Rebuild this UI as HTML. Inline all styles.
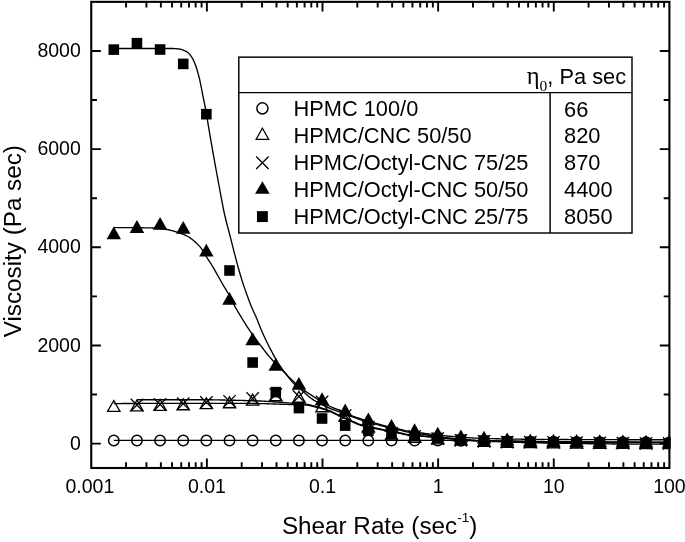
<!DOCTYPE html>
<html lang="en"><head><meta charset="utf-8"><title>Viscosity vs Shear Rate</title>
<style>html,body{margin:0;padding:0;background:#fff;}body{width:685px;height:542px;overflow:hidden;}svg{display:block;}text{font-family:"Liberation Sans",sans-serif;fill:#000;}.tk{font-size:19.5px;}.ax{font-size:24.25px;}.lg{font-size:21.8px;}.sym{font-family:"Liberation Serif","DejaVu Serif",serif;}</style></head><body>
<svg width="685" height="542" viewBox="0 0 685 542">
<rect x="0" y="0" width="685" height="542" fill="#fff"/>
<defs><clipPath id="cp"><rect x="91.25" y="1.85" width="579.15" height="466.15"/></clipPath></defs>
<g clip-path="url(#cp)">
<g fill="none" stroke="#000" stroke-width="1.35" stroke-linejoin="round">
<path d="M113.80,440.40 L115.19,440.40 L116.58,440.40 L117.97,440.40 L119.35,440.40 L120.74,440.40 L122.13,440.40 L123.52,440.40 L124.91,440.40 L126.30,440.40 L127.68,440.40 L129.07,440.40 L130.46,440.40 L131.85,440.40 L133.24,440.40 L134.63,440.40 L136.01,440.40 L137.40,440.40 L138.79,440.40 L140.18,440.40 L141.57,440.40 L142.96,440.40 L144.34,440.40 L145.73,440.40 L147.12,440.40 L148.51,440.40 L149.90,440.40 L151.29,440.40 L152.68,440.40 L154.06,440.40 L155.45,440.40 L156.84,440.40 L158.23,440.40 L159.62,440.40 L161.01,440.40 L162.39,440.40 L163.78,440.40 L165.17,440.40 L166.56,440.40 L167.95,440.40 L169.34,440.40 L170.72,440.40 L172.11,440.40 L173.50,440.40 L174.89,440.40 L176.28,440.40 L177.67,440.40 L179.05,440.40 L180.44,440.40 L181.83,440.40 L183.22,440.40 L184.61,440.40 L186.00,440.40 L187.39,440.40 L188.77,440.40 L190.16,440.40 L191.55,440.40 L192.94,440.40 L194.33,440.40 L195.72,440.40 L197.10,440.40 L198.49,440.40 L199.88,440.40 L201.27,440.40 L202.66,440.40 L204.05,440.40 L205.43,440.40 L206.82,440.40 L208.21,440.40 L209.60,440.40 L210.99,440.40 L212.38,440.40 L213.76,440.40 L215.15,440.40 L216.54,440.40 L217.93,440.40 L219.32,440.40 L220.71,440.40 L222.10,440.40 L223.48,440.40 L224.87,440.40 L226.26,440.40 L227.65,440.40 L229.04,440.40 L230.43,440.40 L231.81,440.40 L233.20,440.40 L234.59,440.40 L235.98,440.40 L237.37,440.40 L238.76,440.40 L240.14,440.40 L241.53,440.40 L242.92,440.40 L244.31,440.40 L245.70,440.40 L247.09,440.40 L248.47,440.40 L249.86,440.40 L251.25,440.40 L252.64,440.40 L254.03,440.40 L255.42,440.40 L256.81,440.40 L258.19,440.40 L259.58,440.40 L260.97,440.40 L262.36,440.40 L263.75,440.40 L265.14,440.40 L266.52,440.40 L267.91,440.40 L269.30,440.40 L270.69,440.40 L272.08,440.40 L273.47,440.40 L274.85,440.40 L276.24,440.40 L277.63,440.40 L279.02,440.40 L280.41,440.40 L281.80,440.40 L283.18,440.40 L284.57,440.40 L285.96,440.40 L287.35,440.40 L288.74,440.40 L290.13,440.40 L291.52,440.40 L292.90,440.40 L294.29,440.40 L295.68,440.40 L297.07,440.40 L298.46,440.40 L299.85,440.40 L301.23,440.40 L302.62,440.40 L304.01,440.40 L305.40,440.40 L306.79,440.40 L308.18,440.40 L309.56,440.40 L310.95,440.40 L312.34,440.40 L313.73,440.40 L315.12,440.40 L316.51,440.40 L317.89,440.40 L319.28,440.40 L320.67,440.40 L322.06,440.40 L323.45,440.40 L324.84,440.40 L326.23,440.40 L327.61,440.40 L329.00,440.40 L330.39,440.40 L331.78,440.40 L333.17,440.40 L334.56,440.40 L335.94,440.40 L337.33,440.40 L338.72,440.40 L340.11,440.40 L341.50,440.40 L342.89,440.40 L344.27,440.40 L345.66,440.40 L347.05,440.40 L348.44,440.40 L349.83,440.40 L351.22,440.40 L352.60,440.40 L353.99,440.40 L355.38,440.40 L356.77,440.40 L358.16,440.40 L359.55,440.40 L360.94,440.40 L362.32,440.40 L363.71,440.40 L365.10,440.40 L366.49,440.40 L367.88,440.40 L369.27,440.40 L370.65,440.40 L372.04,440.40 L373.43,440.40 L374.82,440.40 L376.21,440.40 L377.60,440.40 L378.98,440.40 L380.37,440.40 L381.76,440.40 L383.15,440.40 L384.54,440.40 L385.93,440.40 L387.31,440.40 L388.70,440.40 L390.09,440.40 L391.48,440.40 L392.87,440.40 L394.26,440.40 L395.65,440.40 L397.03,440.40 L398.42,440.40 L399.81,440.40 L401.20,440.40 L402.59,440.40 L403.98,440.40 L405.36,440.40 L406.75,440.40 L408.14,440.40 L409.53,440.40 L410.92,440.40 L412.31,440.40 L413.69,440.40 L415.08,440.40 L416.47,440.40 L417.86,440.40 L419.25,440.40 L420.64,440.40 L422.02,440.40 L423.41,440.40 L424.80,440.40 L426.19,440.40 L427.58,440.40 L428.97,440.40 L430.36,440.40 L431.74,440.40 L433.13,440.40 L434.52,440.40 L435.91,440.40 L437.30,440.40 L438.69,440.40 L440.07,440.40 L441.46,440.40 L442.85,440.40 L444.24,440.41 L445.63,440.41 L447.02,440.42 L448.40,440.42 L449.79,440.43 L451.18,440.44 L452.57,440.45 L453.96,440.46 L455.35,440.48 L456.73,440.49 L458.12,440.50 L459.51,440.52 L460.90,440.53 L462.29,440.55 L463.68,440.56 L465.07,440.58 L466.45,440.59 L467.84,440.61 L469.23,440.63 L470.62,440.64 L472.01,440.66 L473.40,440.68 L474.78,440.69 L476.17,440.71 L477.56,440.73 L478.95,440.74 L480.34,440.76 L481.73,440.78 L483.11,440.79 L484.50,440.81 L485.89,440.82 L487.28,440.84 L488.67,440.85 L490.06,440.87 L491.44,440.88 L492.83,440.90 L494.22,440.92 L495.61,440.93 L497.00,440.95 L498.39,440.97 L499.78,440.99 L501.16,441.01 L502.55,441.03 L503.94,441.04 L505.33,441.06 L506.72,441.08 L508.11,441.10 L509.49,441.12 L510.88,441.14 L512.27,441.16 L513.66,441.18 L515.05,441.19 L516.44,441.21 L517.82,441.23 L519.21,441.25 L520.60,441.27 L521.99,441.29 L523.38,441.31 L524.77,441.32 L526.15,441.34 L527.54,441.36 L528.93,441.38 L530.32,441.39 L531.71,441.41 L533.10,441.43 L534.49,441.44 L535.87,441.46 L537.26,441.47 L538.65,441.49 L540.04,441.50 L541.43,441.51 L542.82,441.53 L544.20,441.54 L545.59,441.56 L546.98,441.57 L548.37,441.58 L549.76,441.60 L551.15,441.61 L552.53,441.62 L553.92,441.64 L555.31,441.65 L556.70,441.66 L558.09,441.68 L559.48,441.69 L560.86,441.70 L562.25,441.71 L563.64,441.73 L565.03,441.74 L566.42,441.75 L567.81,441.76 L569.20,441.78 L570.58,441.79 L571.97,441.80 L573.36,441.81 L574.75,441.82 L576.14,441.83 L577.53,441.84 L578.91,441.86 L580.30,441.87 L581.69,441.88 L583.08,441.89 L584.47,441.90 L585.86,441.91 L587.24,441.92 L588.63,441.93 L590.02,441.94 L591.41,441.95 L592.80,441.96 L594.19,441.96 L595.57,441.97 L596.96,441.98 L598.35,441.99 L599.74,442.00 L601.13,442.01 L602.52,442.01 L603.91,442.02 L605.29,442.03 L606.68,442.04 L608.07,442.05 L609.46,442.05 L610.85,442.06 L612.24,442.07 L613.62,442.08 L615.01,442.08 L616.40,442.09 L617.79,442.10 L619.18,442.11 L620.57,442.11 L621.95,442.12 L623.34,442.13 L624.73,442.13 L626.12,442.14 L627.51,442.15 L628.90,442.15 L630.28,442.16 L631.67,442.17 L633.06,442.17 L634.45,442.18 L635.84,442.19 L637.23,442.19 L638.62,442.20 L640.00,442.20 L641.39,442.21 L642.78,442.22 L644.17,442.22 L645.56,442.23 L646.95,442.23 L648.33,442.24 L649.72,442.24 L651.11,442.25 L652.50,442.25 L653.89,442.26 L655.28,442.26 L656.66,442.27 L658.05,442.27 L659.44,442.27 L660.83,442.28 L662.22,442.28 L663.61,442.29 L664.99,442.29 L666.38,442.29 L667.77,442.30 L669.16,442.30"/>
<path d="M113.80,403.60 L115.19,403.59 L116.58,403.58 L117.97,403.57 L119.35,403.56 L120.74,403.55 L122.13,403.54 L123.52,403.52 L124.91,403.51 L126.30,403.50 L127.68,403.49 L129.07,403.48 L130.46,403.47 L131.85,403.46 L133.24,403.45 L134.63,403.44 L136.01,403.43 L137.40,403.42 L138.79,403.41 L140.18,403.41 L141.57,403.40 L142.96,403.39 L144.34,403.38 L145.73,403.37 L147.12,403.37 L148.51,403.36 L149.90,403.35 L151.29,403.35 L152.68,403.34 L154.06,403.33 L155.45,403.33 L156.84,403.32 L158.23,403.32 L159.62,403.31 L161.01,403.31 L162.39,403.31 L163.78,403.31 L165.17,403.30 L166.56,403.30 L167.95,403.30 L169.34,403.30 L170.72,403.30 L172.11,403.30 L173.50,403.30 L174.89,403.30 L176.28,403.30 L177.67,403.30 L179.05,403.30 L180.44,403.30 L181.83,403.30 L183.22,403.30 L184.61,403.30 L186.00,403.30 L187.39,403.30 L188.77,403.30 L190.16,403.30 L191.55,403.30 L192.94,403.30 L194.33,403.30 L195.72,403.30 L197.10,403.30 L198.49,403.30 L199.88,403.30 L201.27,403.30 L202.66,403.30 L204.05,403.30 L205.43,403.30 L206.82,403.30 L208.21,403.30 L209.60,403.30 L210.99,403.30 L212.38,403.30 L213.76,403.30 L215.15,403.30 L216.54,403.30 L217.93,403.30 L219.32,403.30 L220.71,403.30 L222.10,403.30 L223.48,403.30 L224.87,403.30 L226.26,403.30 L227.65,403.30 L229.04,403.30 L230.43,403.30 L231.81,403.30 L233.20,403.30 L234.59,403.30 L235.98,403.30 L237.37,403.30 L238.76,403.30 L240.14,403.31 L241.53,403.32 L242.92,403.33 L244.31,403.34 L245.70,403.35 L247.09,403.37 L248.47,403.39 L249.86,403.40 L251.25,403.42 L252.64,403.44 L254.03,403.46 L255.42,403.49 L256.81,403.51 L258.19,403.53 L259.58,403.56 L260.97,403.58 L262.36,403.61 L263.75,403.64 L265.14,403.67 L266.52,403.71 L267.91,403.76 L269.30,403.80 L270.69,403.85 L272.08,403.91 L273.47,403.96 L274.85,404.01 L276.24,404.07 L277.63,404.12 L279.02,404.17 L280.41,404.21 L281.80,404.26 L283.18,404.31 L284.57,404.36 L285.96,404.41 L287.35,404.45 L288.74,404.50 L290.13,404.54 L291.52,404.59 L292.90,404.62 L294.29,404.66 L295.68,404.68 L297.07,404.71 L298.46,404.73 L299.85,404.76 L301.23,404.80 L302.62,404.84 L304.01,404.89 L305.40,404.98 L306.79,405.13 L308.18,405.35 L309.56,405.60 L310.95,405.90 L312.34,406.22 L313.73,406.55 L315.12,406.89 L316.51,407.23 L317.89,407.57 L319.28,407.95 L320.67,408.35 L322.06,408.78 L323.45,409.23 L324.84,409.70 L326.23,410.19 L327.61,410.70 L329.00,411.22 L330.39,411.75 L331.78,412.34 L333.17,412.97 L334.56,413.64 L335.94,414.33 L337.33,415.02 L338.72,415.70 L340.11,416.35 L341.50,416.99 L342.89,417.63 L344.27,418.27 L345.66,418.91 L347.05,419.54 L348.44,420.17 L349.83,420.78 L351.22,421.37 L352.60,421.96 L353.99,422.56 L355.38,423.16 L356.77,423.76 L358.16,424.33 L359.55,424.86 L360.94,425.35 L362.32,425.78 L363.71,426.16 L365.10,426.50 L366.49,426.82 L367.88,427.12 L369.27,427.40 L370.65,427.68 L372.04,427.95 L373.43,428.23 L374.82,428.50 L376.21,428.77 L377.60,429.03 L378.98,429.30 L380.37,429.58 L381.76,429.89 L383.15,430.21 L384.54,430.53 L385.93,430.83 L387.31,431.10 L388.70,431.35 L390.09,431.60 L391.48,431.83 L392.87,432.07 L394.26,432.31 L395.65,432.55 L397.03,432.80 L398.42,433.06 L399.81,433.36 L401.20,433.68 L402.59,434.01 L403.98,434.33 L405.36,434.64 L406.75,434.91 L408.14,435.13 L409.53,435.29 L410.92,435.43 L412.31,435.56 L413.69,435.67 L415.08,435.77 L416.47,435.86 L417.86,435.96 L419.25,436.06 L420.64,436.17 L422.02,436.29 L423.41,436.41 L424.80,436.53 L426.19,436.66 L427.58,436.78 L428.97,436.91 L430.36,437.04 L431.74,437.17 L433.13,437.29 L434.52,437.42 L435.91,437.55 L437.30,437.68 L438.69,437.81 L440.07,437.94 L441.46,438.08 L442.85,438.21 L444.24,438.34 L445.63,438.47 L447.02,438.60 L448.40,438.73 L449.79,438.85 L451.18,438.97 L452.57,439.09 L453.96,439.20 L455.35,439.31 L456.73,439.41 L458.12,439.53 L459.51,439.64 L460.90,439.75 L462.29,439.85 L463.68,439.96 L465.07,440.07 L466.45,440.17 L467.84,440.26 L469.23,440.36 L470.62,440.45 L472.01,440.53 L473.40,440.60 L474.78,440.67 L476.17,440.73 L477.56,440.79 L478.95,440.83 L480.34,440.87 L481.73,440.92 L483.11,440.96 L484.50,441.00 L485.89,441.04 L487.28,441.08 L488.67,441.12 L490.06,441.16 L491.44,441.19 L492.83,441.23 L494.22,441.26 L495.61,441.30 L497.00,441.33 L498.39,441.36 L499.78,441.39 L501.16,441.42 L502.55,441.45 L503.94,441.48 L505.33,441.51 L506.72,441.54 L508.11,441.56 L509.49,441.59 L510.88,441.61 L512.27,441.64 L513.66,441.66 L515.05,441.68 L516.44,441.71 L517.82,441.73 L519.21,441.75 L520.60,441.77 L521.99,441.79 L523.38,441.81 L524.77,441.83 L526.15,441.84 L527.54,441.86 L528.93,441.88 L530.32,441.90 L531.71,441.91 L533.10,441.93 L534.49,441.94 L535.87,441.96 L537.26,441.97 L538.65,441.99 L540.04,442.00 L541.43,442.01 L542.82,442.03 L544.20,442.04 L545.59,442.05 L546.98,442.07 L548.37,442.08 L549.76,442.09 L551.15,442.10 L552.53,442.11 L553.92,442.13 L555.31,442.14 L556.70,442.15 L558.09,442.16 L559.48,442.17 L560.86,442.18 L562.25,442.19 L563.64,442.20 L565.03,442.21 L566.42,442.22 L567.81,442.23 L569.20,442.24 L570.58,442.25 L571.97,442.26 L573.36,442.27 L574.75,442.28 L576.14,442.29 L577.53,442.30 L578.91,442.31 L580.30,442.32 L581.69,442.33 L583.08,442.34 L584.47,442.34 L585.86,442.35 L587.24,442.36 L588.63,442.37 L590.02,442.38 L591.41,442.38 L592.80,442.39 L594.19,442.40 L595.57,442.40 L596.96,442.41 L598.35,442.42 L599.74,442.42 L601.13,442.43 L602.52,442.44 L603.91,442.44 L605.29,442.45 L606.68,442.45 L608.07,442.46 L609.46,442.46 L610.85,442.47 L612.24,442.47 L613.62,442.48 L615.01,442.48 L616.40,442.49 L617.79,442.49 L619.18,442.50 L620.57,442.50 L621.95,442.51 L623.34,442.51 L624.73,442.51 L626.12,442.52 L627.51,442.52 L628.90,442.53 L630.28,442.53 L631.67,442.53 L633.06,442.54 L634.45,442.54 L635.84,442.54 L637.23,442.55 L638.62,442.55 L640.00,442.55 L641.39,442.56 L642.78,442.56 L644.17,442.56 L645.56,442.57 L646.95,442.57 L648.33,442.57 L649.72,442.58 L651.11,442.58 L652.50,442.58 L653.89,442.58 L655.28,442.59 L656.66,442.59 L658.05,442.59 L659.44,442.59 L660.83,442.59 L662.22,442.59 L663.61,442.60 L664.99,442.60 L666.38,442.60 L667.77,442.60 L669.16,442.60"/>
<path d="M136.94,399.70 L138.27,399.70 L139.60,399.70 L140.93,399.70 L142.26,399.70 L143.59,399.70 L144.92,399.70 L146.25,399.70 L147.58,399.70 L148.91,399.70 L150.25,399.70 L151.58,399.70 L152.91,399.70 L154.24,399.70 L155.57,399.70 L156.90,399.70 L158.23,399.70 L159.56,399.70 L160.89,399.70 L162.22,399.70 L163.55,399.70 L164.88,399.70 L166.21,399.70 L167.54,399.70 L168.87,399.70 L170.20,399.70 L171.53,399.70 L172.86,399.70 L174.20,399.70 L175.53,399.70 L176.86,399.70 L178.19,399.70 L179.52,399.70 L180.85,399.70 L182.18,399.70 L183.51,399.70 L184.84,399.70 L186.17,399.70 L187.50,399.70 L188.83,399.70 L190.16,399.70 L191.49,399.70 L192.82,399.70 L194.15,399.70 L195.48,399.70 L196.81,399.70 L198.15,399.70 L199.48,399.70 L200.81,399.70 L202.14,399.70 L203.47,399.71 L204.80,399.72 L206.13,399.73 L207.46,399.74 L208.79,399.75 L210.12,399.77 L211.45,399.79 L212.78,399.81 L214.11,399.83 L215.44,399.85 L216.77,399.88 L218.10,399.90 L219.43,399.93 L220.76,399.96 L222.10,399.99 L223.43,400.01 L224.76,400.04 L226.09,400.07 L227.42,400.10 L228.75,400.14 L230.08,400.17 L231.41,400.20 L232.74,400.23 L234.07,400.26 L235.40,400.29 L236.73,400.32 L238.06,400.35 L239.39,400.38 L240.72,400.41 L242.05,400.44 L243.38,400.48 L244.71,400.51 L246.05,400.55 L247.38,400.58 L248.71,400.62 L250.04,400.66 L251.37,400.70 L252.70,400.75 L254.03,400.79 L255.36,400.84 L256.69,400.89 L258.02,400.94 L259.35,400.99 L260.68,401.04 L262.01,401.10 L263.34,401.16 L264.67,401.23 L266.00,401.31 L267.33,401.39 L268.66,401.48 L270.00,401.57 L271.33,401.66 L272.66,401.76 L273.99,401.86 L275.32,401.96 L276.65,402.06 L277.98,402.15 L279.31,402.25 L280.64,402.35 L281.97,402.44 L283.30,402.54 L284.63,402.65 L285.96,402.75 L287.29,402.85 L288.62,402.95 L289.95,403.05 L291.28,403.15 L292.61,403.24 L293.94,403.32 L295.28,403.40 L296.61,403.47 L297.94,403.55 L299.27,403.62 L300.60,403.71 L301.93,403.80 L303.26,403.91 L304.59,404.04 L305.92,404.21 L307.25,404.42 L308.58,404.66 L309.91,404.93 L311.24,405.23 L312.57,405.54 L313.90,405.87 L315.23,406.21 L316.56,406.54 L317.89,406.89 L319.23,407.27 L320.56,407.66 L321.89,408.08 L323.22,408.52 L324.55,408.97 L325.88,409.45 L327.21,409.93 L328.54,410.43 L329.87,410.95 L331.20,411.49 L332.53,412.08 L333.86,412.71 L335.19,413.36 L336.52,414.02 L337.85,414.68 L339.18,415.32 L340.51,415.94 L341.84,416.55 L343.18,417.17 L344.51,417.78 L345.84,418.39 L347.17,419.00 L348.50,419.59 L349.83,420.18 L351.16,420.75 L352.49,421.31 L353.82,421.89 L355.15,422.46 L356.48,423.03 L357.81,423.59 L359.14,424.11 L360.47,424.59 L361.80,425.02 L363.13,425.40 L364.46,425.75 L365.79,426.06 L367.13,426.36 L368.46,426.64 L369.79,426.91 L371.12,427.17 L372.45,427.43 L373.78,427.69 L375.11,427.96 L376.44,428.21 L377.77,428.46 L379.10,428.72 L380.43,428.99 L381.76,429.29 L383.09,429.60 L384.42,429.91 L385.75,430.19 L387.08,430.45 L388.41,430.70 L389.74,430.94 L391.08,431.17 L392.41,431.39 L393.74,431.62 L395.07,431.85 L396.40,432.08 L397.73,432.33 L399.06,432.59 L400.39,432.88 L401.72,433.19 L403.05,433.50 L404.38,433.80 L405.71,434.08 L407.04,434.34 L408.37,434.55 L409.70,434.73 L411.03,434.88 L412.36,435.03 L413.69,435.16 L415.02,435.28 L416.36,435.39 L417.69,435.51 L419.02,435.62 L420.35,435.74 L421.68,435.86 L423.01,435.99 L424.34,436.11 L425.67,436.23 L427.00,436.35 L428.33,436.47 L429.66,436.58 L430.99,436.70 L432.32,436.82 L433.65,436.94 L434.98,437.06 L436.31,437.19 L437.64,437.31 L438.97,437.44 L440.31,437.56 L441.64,437.69 L442.97,437.82 L444.30,437.95 L445.63,438.07 L446.96,438.20 L448.29,438.32 L449.62,438.44 L450.95,438.55 L452.28,438.66 L453.61,438.77 L454.94,438.87 L456.27,438.98 L457.60,439.08 L458.93,439.19 L460.26,439.30 L461.59,439.40 L462.92,439.50 L464.26,439.61 L465.59,439.70 L466.92,439.80 L468.25,439.89 L469.58,439.98 L470.91,440.06 L472.24,440.14 L473.57,440.21 L474.90,440.28 L476.23,440.33 L477.56,440.39 L478.89,440.43 L480.22,440.47 L481.55,440.51 L482.88,440.55 L484.21,440.59 L485.54,440.63 L486.87,440.67 L488.21,440.70 L489.54,440.74 L490.87,440.77 L492.20,440.81 L493.53,440.84 L494.86,440.87 L496.19,440.90 L497.52,440.93 L498.85,440.96 L500.18,440.99 L501.51,441.02 L502.84,441.05 L504.17,441.08 L505.50,441.10 L506.83,441.13 L508.16,441.15 L509.49,441.18 L510.82,441.20 L512.16,441.22 L513.49,441.25 L514.82,441.27 L516.15,441.29 L517.48,441.31 L518.81,441.33 L520.14,441.35 L521.47,441.37 L522.80,441.39 L524.13,441.41 L525.46,441.42 L526.79,441.44 L528.12,441.46 L529.45,441.48 L530.78,441.49 L532.11,441.51 L533.44,441.53 L534.77,441.54 L536.11,441.56 L537.44,441.57 L538.77,441.59 L540.10,441.60 L541.43,441.62 L542.76,441.63 L544.09,441.64 L545.42,441.66 L546.75,441.67 L548.08,441.69 L549.41,441.70 L550.74,441.71 L552.07,441.72 L553.40,441.74 L554.73,441.75 L556.06,441.76 L557.39,441.77 L558.72,441.79 L560.05,441.80 L561.39,441.81 L562.72,441.82 L564.05,441.83 L565.38,441.84 L566.71,441.86 L568.04,441.87 L569.37,441.88 L570.70,441.89 L572.03,441.90 L573.36,441.91 L574.69,441.92 L576.02,441.93 L577.35,441.94 L578.68,441.95 L580.01,441.96 L581.34,441.97 L582.67,441.98 L584.00,441.99 L585.34,442.00 L586.67,442.01 L588.00,442.01 L589.33,442.02 L590.66,442.03 L591.99,442.04 L593.32,442.05 L594.65,442.06 L595.98,442.07 L597.31,442.07 L598.64,442.08 L599.97,442.09 L601.30,442.10 L602.63,442.11 L603.96,442.11 L605.29,442.12 L606.62,442.13 L607.95,442.14 L609.29,442.14 L610.62,442.15 L611.95,442.16 L613.28,442.16 L614.61,442.17 L615.94,442.18 L617.27,442.19 L618.60,442.19 L619.93,442.20 L621.26,442.21 L622.59,442.21 L623.92,442.22 L625.25,442.23 L626.58,442.23 L627.91,442.24 L629.24,442.25 L630.57,442.25 L631.90,442.26 L633.24,442.26 L634.57,442.27 L635.90,442.28 L637.23,442.28 L638.56,442.29 L639.89,442.29 L641.22,442.30 L642.55,442.31 L643.88,442.31 L645.21,442.32 L646.54,442.32 L647.87,442.33 L649.20,442.33 L650.53,442.34 L651.86,442.34 L653.19,442.35 L654.52,442.35 L655.85,442.36 L657.19,442.36 L658.52,442.37 L659.85,442.37 L661.18,442.38 L662.51,442.38 L663.84,442.38 L665.17,442.39 L666.50,442.39 L667.83,442.40 L669.16,442.40"/>
<path d="M113.80,227.60 L115.19,227.60 L116.58,227.60 L117.97,227.60 L119.35,227.61 L120.74,227.61 L122.13,227.62 L123.52,227.62 L124.91,227.63 L126.30,227.63 L127.68,227.64 L129.07,227.65 L130.46,227.66 L131.85,227.67 L133.24,227.68 L134.63,227.70 L136.01,227.71 L137.40,227.73 L138.79,227.74 L140.18,227.76 L141.57,227.77 L142.96,227.79 L144.34,227.81 L145.73,227.83 L147.12,227.85 L148.51,227.88 L149.90,227.90 L151.29,227.93 L152.68,227.99 L154.06,228.07 L155.45,228.16 L156.84,228.28 L158.23,228.41 L159.62,228.56 L161.01,228.72 L162.39,228.89 L163.78,229.08 L165.17,229.27 L166.56,229.47 L167.95,229.69 L169.34,229.98 L170.72,230.32 L172.11,230.70 L173.50,231.10 L174.89,231.52 L176.28,231.95 L177.67,232.38 L179.05,232.83 L180.44,233.31 L181.83,233.81 L183.22,234.36 L184.61,234.94 L186.00,235.56 L187.39,236.24 L188.77,237.01 L190.16,237.92 L191.55,238.93 L192.94,240.02 L194.33,241.16 L195.72,242.37 L197.10,243.68 L198.49,245.11 L199.88,246.67 L201.27,248.45 L202.66,250.55 L204.05,252.85 L205.43,255.21 L206.82,257.48 L208.21,259.60 L209.60,261.68 L210.99,263.79 L212.38,266.02 L213.76,268.39 L215.15,270.85 L216.54,273.33 L217.93,275.79 L219.32,278.28 L220.71,280.76 L222.10,283.22 L223.48,285.63 L224.87,287.93 L226.26,290.19 L227.65,292.49 L229.04,294.90 L230.43,297.54 L231.81,300.36 L233.20,303.19 L234.59,305.85 L235.98,308.35 L237.37,310.75 L238.76,313.10 L240.14,315.41 L241.53,317.71 L242.92,319.98 L244.31,322.21 L245.70,324.41 L247.09,326.57 L248.47,328.69 L249.86,330.78 L251.25,332.81 L252.64,334.80 L254.03,336.72 L255.42,338.61 L256.81,340.46 L258.19,342.29 L259.58,344.10 L260.97,345.91 L262.36,347.74 L263.75,349.58 L265.14,351.42 L266.52,353.22 L267.91,354.94 L269.30,356.57 L270.69,358.15 L272.08,359.68 L273.47,361.18 L274.85,362.65 L276.24,364.10 L277.63,365.53 L279.02,366.94 L280.41,368.35 L281.80,369.76 L283.18,371.17 L284.57,372.60 L285.96,374.03 L287.35,375.46 L288.74,376.87 L290.13,378.26 L291.52,379.60 L292.90,380.89 L294.29,382.15 L295.68,383.37 L297.07,384.58 L298.46,385.75 L299.85,386.90 L301.23,388.01 L302.62,389.10 L304.01,390.16 L305.40,391.18 L306.79,392.15 L308.18,393.09 L309.56,394.01 L310.95,394.93 L312.34,395.83 L313.73,396.72 L315.12,397.60 L316.51,398.47 L317.89,399.34 L319.28,400.23 L320.67,401.12 L322.06,402.00 L323.45,402.86 L324.84,403.70 L326.23,404.50 L327.61,405.25 L329.00,405.95 L330.39,406.59 L331.78,407.19 L333.17,407.75 L334.56,408.30 L335.94,408.84 L337.33,409.39 L338.72,409.96 L340.11,410.55 L341.50,411.16 L342.89,411.79 L344.27,412.42 L345.66,413.06 L347.05,413.69 L348.44,414.30 L349.83,414.90 L351.22,415.47 L352.60,416.02 L353.99,416.54 L355.38,417.04 L356.77,417.53 L358.16,418.00 L359.55,418.46 L360.94,418.92 L362.32,419.36 L363.71,419.80 L365.10,420.24 L366.49,420.66 L367.88,421.07 L369.27,421.47 L370.65,421.87 L372.04,422.27 L373.43,422.66 L374.82,423.05 L376.21,423.43 L377.60,423.82 L378.98,424.20 L380.37,424.58 L381.76,424.95 L383.15,425.32 L384.54,425.68 L385.93,426.03 L387.31,426.38 L388.70,426.71 L390.09,427.03 L391.48,427.35 L392.87,427.67 L394.26,427.98 L395.65,428.29 L397.03,428.61 L398.42,428.92 L399.81,429.26 L401.20,429.61 L402.59,429.96 L403.98,430.30 L405.36,430.63 L406.75,430.93 L408.14,431.20 L409.53,431.44 L410.92,431.64 L412.31,431.84 L413.69,432.02 L415.08,432.19 L416.47,432.35 L417.86,432.52 L419.25,432.68 L420.64,432.85 L422.02,433.03 L423.41,433.22 L424.80,433.40 L426.19,433.58 L427.58,433.77 L428.97,433.95 L430.36,434.12 L431.74,434.30 L433.13,434.46 L434.52,434.63 L435.91,434.78 L437.30,434.94 L438.69,435.09 L440.07,435.25 L441.46,435.40 L442.85,435.55 L444.24,435.69 L445.63,435.83 L447.02,435.97 L448.40,436.10 L449.79,436.24 L451.18,436.36 L452.57,436.48 L453.96,436.60 L455.35,436.71 L456.73,436.82 L458.12,436.94 L459.51,437.05 L460.90,437.16 L462.29,437.27 L463.68,437.37 L465.07,437.48 L466.45,437.58 L467.84,437.67 L469.23,437.76 L470.62,437.85 L472.01,437.93 L473.40,438.01 L474.78,438.07 L476.17,438.13 L477.56,438.19 L478.95,438.23 L480.34,438.28 L481.73,438.32 L483.11,438.36 L484.50,438.40 L485.89,438.44 L487.28,438.48 L488.67,438.52 L490.06,438.56 L491.44,438.60 L492.83,438.64 L494.22,438.67 L495.61,438.71 L497.00,438.74 L498.39,438.77 L499.78,438.81 L501.16,438.84 L502.55,438.87 L503.94,438.90 L505.33,438.93 L506.72,438.96 L508.11,438.99 L509.49,439.01 L510.88,439.04 L512.27,439.06 L513.66,439.09 L515.05,439.11 L516.44,439.13 L517.82,439.16 L519.21,439.18 L520.60,439.20 L521.99,439.22 L523.38,439.24 L524.77,439.25 L526.15,439.27 L527.54,439.29 L528.93,439.30 L530.32,439.32 L531.71,439.33 L533.10,439.35 L534.49,439.36 L535.87,439.37 L537.26,439.38 L538.65,439.39 L540.04,439.40 L541.43,439.41 L542.82,439.42 L544.20,439.43 L545.59,439.43 L546.98,439.44 L548.37,439.45 L549.76,439.46 L551.15,439.47 L552.53,439.47 L553.92,439.48 L555.31,439.49 L556.70,439.49 L558.09,439.50 L559.48,439.51 L560.86,439.51 L562.25,439.52 L563.64,439.53 L565.03,439.53 L566.42,439.54 L567.81,439.54 L569.20,439.55 L570.58,439.55 L571.97,439.56 L573.36,439.57 L574.75,439.57 L576.14,439.58 L577.53,439.58 L578.91,439.59 L580.30,439.59 L581.69,439.59 L583.08,439.60 L584.47,439.60 L585.86,439.61 L587.24,439.61 L588.63,439.62 L590.02,439.62 L591.41,439.62 L592.80,439.63 L594.19,439.63 L595.57,439.64 L596.96,439.64 L598.35,439.64 L599.74,439.65 L601.13,439.65 L602.52,439.66 L603.91,439.66 L605.29,439.66 L606.68,439.67 L608.07,439.67 L609.46,439.67 L610.85,439.68 L612.24,439.68 L613.62,439.68 L615.01,439.69 L616.40,439.69 L617.79,439.69 L619.18,439.70 L620.57,439.70 L621.95,439.70 L623.34,439.71 L624.73,439.71 L626.12,439.72 L627.51,439.72 L628.90,439.72 L630.28,439.73 L631.67,439.73 L633.06,439.73 L634.45,439.74 L635.84,439.74 L637.23,439.74 L638.62,439.74 L640.00,439.75 L641.39,439.75 L642.78,439.75 L644.17,439.76 L645.56,439.76 L646.95,439.76 L648.33,439.76 L649.72,439.77 L651.11,439.77 L652.50,439.77 L653.89,439.78 L655.28,439.78 L656.66,439.78 L658.05,439.78 L659.44,439.78 L660.83,439.79 L662.22,439.79 L663.61,439.79 L664.99,439.79 L666.38,439.80 L667.77,439.80 L669.16,439.80"/>
<path d="M113.80,48.45 L115.19,48.45 L116.58,48.45 L117.97,48.45 L119.35,48.45 L120.74,48.45 L122.13,48.45 L123.52,48.45 L124.91,48.45 L126.30,48.45 L127.68,48.45 L129.07,48.45 L130.46,48.45 L131.85,48.45 L133.24,48.45 L134.63,48.45 L136.01,48.45 L137.40,48.45 L138.79,48.45 L140.18,48.45 L141.57,48.45 L142.96,48.45 L144.34,48.45 L145.73,48.45 L147.12,48.45 L148.51,48.45 L149.90,48.45 L151.29,48.45 L152.68,48.45 L154.06,48.45 L155.45,48.45 L156.84,48.45 L158.23,48.45 L159.62,48.45 L161.01,48.45 L162.39,48.45 L163.78,48.45 L165.17,48.45 L166.56,48.45 L167.95,48.45 L169.34,48.45 L170.72,48.45 L172.11,48.48 L173.50,48.54 L174.89,48.62 L176.28,48.73 L177.67,48.85 L179.05,48.98 L180.44,49.20 L181.83,49.57 L183.22,50.06 L184.61,50.62 L186.00,51.30 L187.39,52.21 L188.77,53.35 L190.16,54.88 L191.55,56.83 L192.94,59.20 L194.33,62.22 L195.72,65.77 L197.10,69.95 L198.49,74.91 L199.88,80.53 L201.27,87.28 L202.66,94.55 L204.05,101.41 L205.43,108.20 L206.82,116.04 L208.21,124.82 L209.60,133.09 L210.99,141.16 L212.38,149.09 L213.76,156.91 L215.15,164.63 L216.54,172.25 L217.93,179.78 L219.32,187.25 L220.71,194.79 L222.10,202.23 L223.48,209.30 L224.87,215.76 L226.26,221.52 L227.65,226.85 L229.04,232.03 L230.43,237.36 L231.81,242.82 L233.20,248.32 L234.59,253.80 L235.98,259.20 L237.37,264.45 L238.76,269.49 L240.14,274.30 L241.53,278.90 L242.92,283.27 L244.31,287.41 L245.70,291.38 L247.09,295.22 L248.47,298.98 L249.86,302.65 L251.25,306.16 L252.64,309.46 L254.03,312.52 L255.42,315.56 L256.81,318.77 L258.19,322.23 L259.58,325.78 L260.97,329.24 L262.36,332.48 L263.75,335.59 L265.14,338.59 L266.52,341.48 L267.91,344.28 L269.30,347.00 L270.69,349.66 L272.08,352.26 L273.47,354.82 L274.85,357.36 L276.24,359.86 L277.63,362.24 L279.02,364.44 L280.41,366.48 L281.80,368.42 L283.18,370.28 L284.57,372.11 L285.96,373.95 L287.35,375.80 L288.74,377.64 L290.13,379.42 L291.52,381.09 L292.90,382.61 L294.29,384.00 L295.68,385.29 L297.07,386.52 L298.46,387.69 L299.85,388.83 L301.23,389.96 L302.62,391.09 L304.01,392.25 L305.40,393.45 L306.79,394.72 L308.18,395.98 L309.56,397.16 L310.95,398.20 L312.34,399.18 L313.73,400.09 L315.12,400.95 L316.51,401.76 L317.89,402.54 L319.28,403.29 L320.67,404.02 L322.06,404.72 L323.45,405.40 L324.84,406.06 L326.23,406.70 L327.61,407.32 L329.00,407.93 L330.39,408.51 L331.78,409.06 L333.17,409.60 L334.56,410.12 L335.94,410.64 L337.33,411.16 L338.72,411.68 L340.11,412.22 L341.50,412.75 L342.89,413.28 L344.27,413.81 L345.66,414.34 L347.05,414.87 L348.44,415.39 L349.83,415.90 L351.22,416.41 L352.60,416.91 L353.99,417.40 L355.38,417.90 L356.77,418.38 L358.16,418.87 L359.55,419.34 L360.94,419.81 L362.32,420.26 L363.71,420.70 L365.10,421.14 L366.49,421.56 L367.88,421.97 L369.27,422.37 L370.65,422.77 L372.04,423.17 L373.43,423.56 L374.82,423.95 L376.21,424.33 L377.60,424.72 L378.98,425.10 L380.37,425.48 L381.76,425.86 L383.15,426.22 L384.54,426.58 L385.93,426.93 L387.31,427.27 L388.70,427.60 L390.09,427.92 L391.48,428.23 L392.87,428.53 L394.26,428.84 L395.65,429.15 L397.03,429.46 L398.42,429.77 L399.81,430.11 L401.20,430.46 L402.59,430.81 L403.98,431.16 L405.36,431.49 L406.75,431.81 L408.14,432.10 L409.53,432.35 L410.92,432.58 L412.31,432.79 L413.69,432.99 L415.08,433.18 L416.47,433.37 L417.86,433.56 L419.25,433.75 L420.64,433.95 L422.02,434.15 L423.41,434.36 L424.80,434.57 L426.19,434.79 L427.58,435.00 L428.97,435.21 L430.36,435.42 L431.74,435.63 L433.13,435.83 L434.52,436.03 L435.91,436.23 L437.30,436.42 L438.69,436.62 L440.07,436.82 L441.46,437.01 L442.85,437.20 L444.24,437.39 L445.63,437.58 L447.02,437.76 L448.40,437.94 L449.79,438.11 L451.18,438.28 L452.57,438.44 L453.96,438.60 L455.35,438.75 L456.73,438.90 L458.12,439.05 L459.51,439.20 L460.90,439.35 L462.29,439.49 L463.68,439.64 L465.07,439.78 L466.45,439.91 L467.84,440.04 L469.23,440.17 L470.62,440.29 L472.01,440.40 L473.40,440.51 L474.78,440.60 L476.17,440.69 L477.56,440.78 L478.95,440.85 L480.34,440.92 L481.73,440.99 L483.11,441.06 L484.50,441.13 L485.89,441.19 L487.28,441.26 L488.67,441.32 L490.06,441.38 L491.44,441.45 L492.83,441.50 L494.22,441.56 L495.61,441.62 L497.00,441.68 L498.39,441.73 L499.78,441.78 L501.16,441.83 L502.55,441.89 L503.94,441.94 L505.33,441.98 L506.72,442.03 L508.11,442.08 L509.49,442.12 L510.88,442.17 L512.27,442.21 L513.66,442.25 L515.05,442.29 L516.44,442.33 L517.82,442.37 L519.21,442.41 L520.60,442.45 L521.99,442.49 L523.38,442.52 L524.77,442.56 L526.15,442.59 L527.54,442.63 L528.93,442.66 L530.32,442.69 L531.71,442.72 L533.10,442.76 L534.49,442.79 L535.87,442.82 L537.26,442.84 L538.65,442.87 L540.04,442.90 L541.43,442.93 L542.82,442.96 L544.20,442.98 L545.59,443.01 L546.98,443.04 L548.37,443.06 L549.76,443.09 L551.15,443.11 L552.53,443.14 L553.92,443.17 L555.31,443.19 L556.70,443.22 L558.09,443.24 L559.48,443.26 L560.86,443.29 L562.25,443.31 L563.64,443.34 L565.03,443.36 L566.42,443.38 L567.81,443.40 L569.20,443.43 L570.58,443.45 L571.97,443.47 L573.36,443.49 L574.75,443.51 L576.14,443.53 L577.53,443.55 L578.91,443.57 L580.30,443.59 L581.69,443.61 L583.08,443.63 L584.47,443.65 L585.86,443.67 L587.24,443.69 L588.63,443.70 L590.02,443.72 L591.41,443.74 L592.80,443.76 L594.19,443.77 L595.57,443.79 L596.96,443.80 L598.35,443.82 L599.74,443.83 L601.13,443.85 L602.52,443.86 L603.91,443.87 L605.29,443.89 L606.68,443.90 L608.07,443.91 L609.46,443.92 L610.85,443.94 L612.24,443.95 L613.62,443.96 L615.01,443.97 L616.40,443.98 L617.79,443.99 L619.18,443.99 L620.57,444.00 L621.95,444.01 L623.34,444.02 L624.73,444.03 L626.12,444.04 L627.51,444.04 L628.90,444.05 L630.28,444.06 L631.67,444.07 L633.06,444.08 L634.45,444.08 L635.84,444.09 L637.23,444.10 L638.62,444.11 L640.00,444.11 L641.39,444.12 L642.78,444.13 L644.17,444.13 L645.56,444.14 L646.95,444.14 L648.33,444.15 L649.72,444.16 L651.11,444.16 L652.50,444.17 L653.89,444.17 L655.28,444.18 L656.66,444.18 L658.05,444.18 L659.44,444.19 L660.83,444.19 L662.22,444.19 L663.61,444.19 L664.99,444.20 L666.38,444.20 L667.77,444.20 L669.16,444.20"/>
</g>
<g fill="none" stroke="#000" stroke-width="1.5">
<circle cx="113.80" cy="440.50" r="5.2"/>
<circle cx="136.94" cy="440.50" r="5.2"/>
<circle cx="160.08" cy="440.50" r="5.2"/>
<circle cx="183.22" cy="440.50" r="5.2"/>
<circle cx="206.36" cy="440.50" r="5.2"/>
<circle cx="229.50" cy="440.50" r="5.2"/>
<circle cx="252.64" cy="440.50" r="5.2"/>
<circle cx="275.78" cy="440.50" r="5.2"/>
<circle cx="298.92" cy="440.50" r="5.2"/>
<circle cx="322.06" cy="440.50" r="5.2"/>
<circle cx="345.20" cy="440.50" r="5.2"/>
<circle cx="368.34" cy="440.50" r="5.2"/>
<circle cx="391.48" cy="440.50" r="5.2"/>
<circle cx="414.62" cy="440.50" r="5.2"/>
<circle cx="437.76" cy="440.50" r="5.2"/>
<circle cx="460.90" cy="440.70" r="5.2"/>
<circle cx="484.04" cy="441.00" r="5.2"/>
<circle cx="507.18" cy="441.30" r="5.2"/>
<circle cx="530.32" cy="441.60" r="5.2"/>
<circle cx="553.46" cy="441.80" r="5.2"/>
<circle cx="576.60" cy="442.00" r="5.2"/>
<circle cx="599.74" cy="442.10" r="5.2"/>
<circle cx="622.88" cy="442.20" r="5.2"/>
<circle cx="646.02" cy="442.30" r="5.2"/>
<circle cx="669.16" cy="442.40" r="5.2"/>
</g>
<g fill="none" stroke="#000" stroke-width="1.3" stroke-linejoin="miter">
<path d="M113.80,400.55 L120.00,411.45 L107.60,411.45 Z"/>
<path d="M136.94,400.05 L143.14,410.95 L130.74,410.95 Z"/>
<path d="M160.08,399.45 L166.28,410.35 L153.88,410.35 Z"/>
<path d="M183.22,398.85 L189.42,409.75 L177.02,409.75 Z"/>
<path d="M206.36,397.75 L212.56,408.65 L200.16,408.65 Z"/>
<path d="M229.50,396.85 L235.70,407.75 L223.30,407.75 Z"/>
<path d="M252.64,394.15 L258.84,405.05 L246.44,405.05 Z"/>
<path d="M275.78,389.85 L281.98,400.75 L269.58,400.75 Z"/>
<path d="M298.92,391.35 L305.12,402.25 L292.72,402.25 Z"/>
<path d="M322.06,400.85 L328.26,411.75 L315.86,411.75 Z"/>
<path d="M345.20,410.05 L351.40,420.95 L339.00,420.95 Z"/>
<path d="M368.34,420.95 L374.54,431.85 L362.14,431.85 Z"/>
<path d="M391.48,428.95 L397.68,439.85 L385.28,439.85 Z"/>
<path d="M414.62,431.55 L420.82,442.45 L408.42,442.45 Z"/>
<path d="M437.76,433.05 L443.96,443.95 L431.56,443.95 Z"/>
<path d="M460.90,434.05 L467.10,444.95 L454.70,444.95 Z"/>
<path d="M484.04,435.55 L490.24,446.45 L477.84,446.45 Z"/>
<path d="M507.18,436.35 L513.38,447.25 L500.98,447.25 Z"/>
<path d="M530.32,436.75 L536.52,447.65 L524.12,447.65 Z"/>
<path d="M553.46,437.05 L559.66,447.95 L547.26,447.95 Z"/>
<path d="M576.60,437.25 L582.80,448.15 L570.40,448.15 Z"/>
<path d="M599.74,437.45 L605.94,448.35 L593.54,448.35 Z"/>
<path d="M622.88,437.55 L629.08,448.45 L616.68,448.45 Z"/>
<path d="M646.02,437.65 L652.22,448.55 L639.82,448.55 Z"/>
<path d="M669.16,437.75 L675.36,448.65 L662.96,448.65 Z"/>
</g>
<g fill="none" stroke="#000" stroke-width="1.3">
<path d="M130.74,398.80 L143.14,411.20 M130.74,411.20 L143.14,398.80"/>
<path d="M153.88,398.30 L166.28,410.70 M153.88,410.70 L166.28,398.30"/>
<path d="M177.02,397.50 L189.42,409.90 M177.02,409.90 L189.42,397.50"/>
<path d="M200.16,396.20 L212.56,408.60 M200.16,408.60 L212.56,396.20"/>
<path d="M223.30,395.10 L235.70,407.50 M223.30,407.50 L235.70,395.10"/>
<path d="M246.44,392.30 L258.84,404.70 M246.44,404.70 L258.84,392.30"/>
<path d="M269.58,388.40 L281.98,400.80 M269.58,400.80 L281.98,388.40"/>
<path d="M292.72,390.30 L305.12,402.70 M292.72,402.70 L305.12,390.30"/>
<path d="M315.86,395.70 L328.26,408.10 M315.86,408.10 L328.26,395.70"/>
<path d="M339.00,409.40 L351.40,421.80 M339.00,421.80 L351.40,409.40"/>
<path d="M362.14,421.00 L374.54,433.40 M362.14,433.40 L374.54,421.00"/>
<path d="M385.28,427.00 L397.68,439.40 M385.28,439.40 L397.68,427.00"/>
<path d="M408.42,430.30 L420.82,442.70 M408.42,442.70 L420.82,430.30"/>
<path d="M431.56,432.40 L443.96,444.80 M431.56,444.80 L443.96,432.40"/>
<path d="M454.70,434.10 L467.10,446.50 M454.70,446.50 L467.10,434.10"/>
<path d="M477.84,435.10 L490.24,447.50 M477.84,447.50 L490.24,435.10"/>
<path d="M500.98,436.00 L513.38,448.40 M500.98,448.40 L513.38,436.00"/>
<path d="M524.12,436.00 L536.52,448.40 M524.12,448.40 L536.52,436.00"/>
<path d="M547.26,436.10 L559.66,448.50 M547.26,448.50 L559.66,436.10"/>
<path d="M570.40,436.40 L582.80,448.80 M570.40,448.80 L582.80,436.40"/>
<path d="M593.54,436.70 L605.94,449.10 M593.54,449.10 L605.94,436.70"/>
<path d="M616.68,437.00 L629.08,449.40 M616.68,449.40 L629.08,437.00"/>
<path d="M639.82,437.10 L652.22,449.50 M639.82,449.50 L652.22,437.10"/>
<path d="M662.96,437.20 L675.36,449.60 M662.96,449.60 L675.36,437.20"/>
</g>
<g fill="#000" stroke="none">
<path d="M113.80,226.40 L121.05,239.30 L106.55,239.30 Z"/>
<path d="M136.94,220.10 L144.19,233.00 L129.69,233.00 Z"/>
<path d="M160.08,216.95 L167.33,229.85 L152.83,229.85 Z"/>
<path d="M183.22,220.90 L190.47,233.80 L175.97,233.80 Z"/>
<path d="M206.36,243.70 L213.61,256.60 L199.11,256.60 Z"/>
<path d="M229.50,291.95 L236.75,304.85 L222.25,304.85 Z"/>
<path d="M252.64,332.25 L259.89,345.15 L245.39,345.15 Z"/>
<path d="M275.78,357.85 L283.03,370.75 L268.53,370.75 Z"/>
<path d="M298.92,376.95 L306.17,389.85 L291.67,389.85 Z"/>
<path d="M322.06,392.35 L329.31,405.25 L314.81,405.25 Z"/>
<path d="M345.20,403.55 L352.45,416.45 L337.95,416.45 Z"/>
<path d="M368.34,412.40 L375.59,425.30 L361.09,425.30 Z"/>
<path d="M391.48,418.95 L398.73,431.85 L384.23,431.85 Z"/>
<path d="M414.62,423.30 L421.87,436.20 L407.37,436.20 Z"/>
<path d="M437.76,426.85 L445.01,439.75 L430.51,439.75 Z"/>
<path d="M460.90,429.40 L468.15,442.30 L453.65,442.30 Z"/>
<path d="M484.04,430.70 L491.29,443.60 L476.79,443.60 Z"/>
<path d="M507.18,432.50 L514.43,445.40 L499.93,445.40 Z"/>
<path d="M530.32,433.50 L537.57,446.40 L523.07,446.40 Z"/>
<path d="M553.46,433.80 L560.71,446.70 L546.21,446.70 Z"/>
<path d="M576.60,434.05 L583.85,446.95 L569.35,446.95 Z"/>
<path d="M599.74,434.25 L606.99,447.15 L592.49,447.15 Z"/>
<path d="M622.88,434.45 L630.13,447.35 L615.63,447.35 Z"/>
<path d="M646.02,434.65 L653.27,447.55 L638.77,447.55 Z"/>
<path d="M669.16,434.75 L676.41,447.65 L661.91,447.65 Z"/>
</g>
<g fill="#000" stroke="none">
<rect x="108.50" y="44.30" width="10.6" height="10.6"/>
<rect x="131.64" y="37.90" width="10.6" height="10.6"/>
<rect x="154.78" y="44.20" width="10.6" height="10.6"/>
<rect x="177.92" y="58.60" width="10.6" height="10.6"/>
<rect x="201.06" y="108.90" width="10.6" height="10.6"/>
<rect x="224.20" y="265.20" width="10.6" height="10.6"/>
<rect x="247.34" y="357.20" width="10.6" height="10.6"/>
<rect x="270.48" y="386.85" width="10.6" height="10.6"/>
<rect x="293.62" y="402.80" width="10.6" height="10.6"/>
<rect x="316.76" y="413.20" width="10.6" height="10.6"/>
<rect x="339.90" y="420.30" width="10.6" height="10.6"/>
<rect x="363.04" y="425.40" width="10.6" height="10.6"/>
<rect x="386.18" y="428.70" width="10.6" height="10.6"/>
<rect x="409.32" y="430.90" width="10.6" height="10.6"/>
<rect x="432.46" y="432.70" width="10.6" height="10.6"/>
<rect x="455.60" y="434.30" width="10.6" height="10.6"/>
<rect x="478.74" y="435.30" width="10.6" height="10.6"/>
<rect x="501.88" y="436.00" width="10.6" height="10.6"/>
<rect x="525.02" y="436.50" width="10.6" height="10.6"/>
<rect x="548.16" y="436.90" width="10.6" height="10.6"/>
<rect x="571.30" y="437.20" width="10.6" height="10.6"/>
<rect x="594.44" y="437.50" width="10.6" height="10.6"/>
<rect x="617.58" y="437.70" width="10.6" height="10.6"/>
<rect x="640.72" y="437.90" width="10.6" height="10.6"/>
<rect x="663.86" y="438.00" width="10.6" height="10.6"/>
</g>
</g>
<g fill="none" stroke="#000" stroke-width="2.1" stroke-linecap="square">
<rect x="91.25" y="1.85" width="578.15" height="466.15"/>
</g>
<g fill="none" stroke="#000" stroke-width="1.9">
<path d="M126.06,468.0 v-5.7 M126.06,1.85 v5.7 M146.42,468.0 v-5.7 M146.42,1.85 v5.7 M160.87,468.0 v-5.7 M160.87,1.85 v5.7 M172.07,468.0 v-5.7 M172.07,1.85 v5.7 M181.23,468.0 v-5.7 M181.23,1.85 v5.7 M188.97,468.0 v-5.7 M188.97,1.85 v5.7 M195.67,468.0 v-5.7 M195.67,1.85 v5.7 M201.59,468.0 v-5.7 M201.59,1.85 v5.7 M206.88,468.0 v-9.6 M206.88,1.85 v9.6 M241.69,468.0 v-5.7 M241.69,1.85 v5.7 M262.05,468.0 v-5.7 M262.05,1.85 v5.7 M276.50,468.0 v-5.7 M276.50,1.85 v5.7 M287.70,468.0 v-5.7 M287.70,1.85 v5.7 M296.86,468.0 v-5.7 M296.86,1.85 v5.7 M304.60,468.0 v-5.7 M304.60,1.85 v5.7 M311.30,468.0 v-5.7 M311.30,1.85 v5.7 M317.22,468.0 v-5.7 M317.22,1.85 v5.7 M322.51,468.0 v-9.6 M322.51,1.85 v9.6 M357.32,468.0 v-5.7 M357.32,1.85 v5.7 M377.68,468.0 v-5.7 M377.68,1.85 v5.7 M392.13,468.0 v-5.7 M392.13,1.85 v5.7 M403.33,468.0 v-5.7 M403.33,1.85 v5.7 M412.49,468.0 v-5.7 M412.49,1.85 v5.7 M420.23,468.0 v-5.7 M420.23,1.85 v5.7 M426.93,468.0 v-5.7 M426.93,1.85 v5.7 M432.85,468.0 v-5.7 M432.85,1.85 v5.7 M438.14,468.0 v-9.6 M438.14,1.85 v9.6 M472.95,468.0 v-5.7 M472.95,1.85 v5.7 M493.31,468.0 v-5.7 M493.31,1.85 v5.7 M507.76,468.0 v-5.7 M507.76,1.85 v5.7 M518.96,468.0 v-5.7 M518.96,1.85 v5.7 M528.12,468.0 v-5.7 M528.12,1.85 v5.7 M535.86,468.0 v-5.7 M535.86,1.85 v5.7 M542.56,468.0 v-5.7 M542.56,1.85 v5.7 M548.48,468.0 v-5.7 M548.48,1.85 v5.7 M553.77,468.0 v-9.6 M553.77,1.85 v9.6 M588.58,468.0 v-5.7 M588.58,1.85 v5.7 M608.94,468.0 v-5.7 M608.94,1.85 v5.7 M623.39,468.0 v-5.7 M623.39,1.85 v5.7 M634.59,468.0 v-5.7 M634.59,1.85 v5.7 M643.75,468.0 v-5.7 M643.75,1.85 v5.7 M651.49,468.0 v-5.7 M651.49,1.85 v5.7 M658.19,468.0 v-5.7 M658.19,1.85 v5.7 M664.11,468.0 v-5.7 M664.11,1.85 v5.7 M91.25,443.60 h9.6 M669.4,443.60 h-9.6 M91.25,394.52 h5.7 M669.4,394.52 h-5.7 M91.25,345.44 h9.6 M669.4,345.44 h-9.6 M91.25,296.36 h5.7 M669.4,296.36 h-5.7 M91.25,247.28 h9.6 M669.4,247.28 h-9.6 M91.25,198.20 h5.7 M669.4,198.20 h-5.7 M91.25,149.11 h9.6 M669.4,149.11 h-9.6 M91.25,100.03 h5.7 M669.4,100.03 h-5.7 M91.25,50.95 h9.6 M669.4,50.95 h-9.6"/>
</g>
<g class="tk" text-anchor="end">
<text x="80.8" y="449.70">0</text>
<text x="80.8" y="351.54">2000</text>
<text x="80.8" y="253.38">4000</text>
<text x="80.8" y="155.21">6000</text>
<text x="80.8" y="57.05">8000</text>
</g>
<g class="tk" text-anchor="middle">
<text x="89.85" y="492.9">0.001</text>
<text x="206.88" y="492.9">0.01</text>
<text x="322.51" y="492.9">0.1</text>
<text x="438.14" y="492.9">1</text>
<text x="553.77" y="492.9">10</text>
<text x="669.40" y="492.9">100</text>
</g>
<text class="ax" text-anchor="middle" x="379.6" y="534.0">Shear Rate (sec<tspan font-size="13.5" dy="-12.5">-1</tspan><tspan dy="12.5">)</tspan></text>
<text class="ax" text-anchor="middle" transform="translate(21,241.2) rotate(-90)">Viscosity (Pa sec)</text>
<g fill="#fff" stroke="#000" stroke-width="1.45">
<rect x="238.8" y="57.15" width="393.2" height="175.85"/>
<path fill="none" d="M238.8,92.6 H632 M550.1,92.6 V233.0"/>
</g>
<text class="lg" x="526.8" y="83.7"><tspan class="sym" font-size="24.5">η</tspan><tspan font-size="15.5" dy="7.5" class="sym">0</tspan><tspan dy="-7.5">, Pa sec</tspan></text>
<text class="lg" x="293.5" y="116.00">HPMC 100/0</text>
<text class="lg" x="564.1" y="116.50">66</text>
<circle cx="262.4" cy="108.40" r="5.55" fill="none" stroke="#000" stroke-width="1.5"/>
<text class="lg" x="293.5" y="142.95">HPMC/CNC 50/50</text>
<text class="lg" x="564.1" y="143.45">820</text>
<path d="M262.40,128.30 L268.65,139.30 L256.15,139.30 Z" fill="none" stroke="#000" stroke-width="1.3"/>
<text class="lg" x="293.5" y="169.90">HPMC/Octyl-CNC 75/25</text>
<text class="lg" x="564.1" y="170.40">870</text>
<path d="M256.15,156.55 L268.65,169.05 M256.15,169.05 L268.65,156.55" fill="none" stroke="#000" stroke-width="1.3"/>
<text class="lg" x="293.5" y="196.85">HPMC/Octyl-CNC 50/50</text>
<text class="lg" x="564.1" y="197.35">4400</text>
<path d="M262.40,181.20 L269.70,193.80 L255.10,193.80 Z" fill="#000"/>
<text class="lg" x="293.5" y="223.80">HPMC/Octyl-CNC 25/75</text>
<text class="lg" x="564.1" y="224.30">8050</text>
<rect x="256.95" y="211.15" width="10.9" height="10.9" fill="#000"/>
</svg></body></html>
